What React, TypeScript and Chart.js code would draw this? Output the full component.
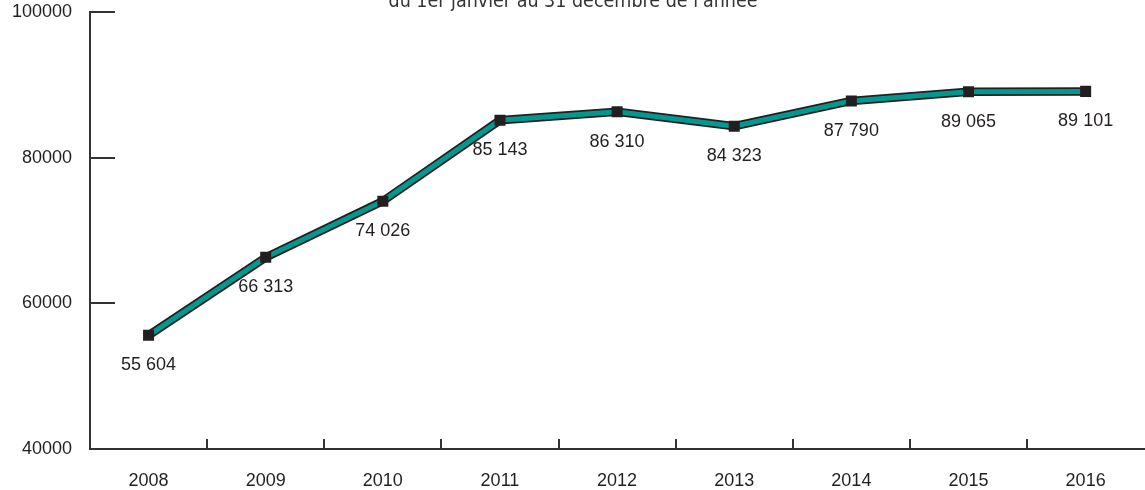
import React, { useEffect, useRef } from "react";
import { Chart, registerables } from "chart.js";

Chart.register(...registerables);

const years: string[] = ["2008", "2009", "2010", "2011", "2012", "2013", "2014", "2015", "2016"];
const values: number[] = [55604, 66313, 74026, 85143, 86310, 84323, 87790, 89065, 89101];
const yTicks: number[] = [40000, 60000, 80000, 100000];
const subtitle = "du 1er janvier au 31 décembre de l'année";

const TEAL = "#00998f";
const DARK = "#231f20";
const AXIS = "#333333";
const FONT = "'Liberation Sans', Arial, sans-serif";

const fmt = (v: number) => String(v).replace(/\B(?=(\d{3})+(?!\d))/g, " ");

const decorPlugin = {
  id: "decor",
  afterDraw(chart: any) {
    const { ctx, chartArea, scales } = chart;
    const x = scales.x;
    const y = scales.y;
    ctx.save();
    ctx.strokeStyle = AXIS;
    ctx.lineWidth = 2;
    for (const v of yTicks) {
      const py = Math.round(y.getPixelForValue(v));
      ctx.beginPath();
      ctx.moveTo(chartArea.left, py);
      ctx.lineTo(chartArea.left + 25, py);
      ctx.stroke();
    }
    for (let i = 0; i < years.length - 1; i++) {
      const px = Math.round((x.getPixelForValue(i) + x.getPixelForValue(i + 1)) / 2);
      ctx.beginPath();
      ctx.moveTo(px, chartArea.bottom);
      ctx.lineTo(px, chartArea.bottom - 10);
      ctx.stroke();
    }
    const meta = chart.getDatasetMeta(1);
    ctx.fillStyle = DARK;
    ctx.font = `18px ${FONT}`;
    ctx.textAlign = "center";
    ctx.textBaseline = "middle";
    meta.data.forEach((pt: any, i: number) => {
      ctx.fillText(fmt(values[i]), pt.x, pt.y + 30);
    });
    ctx.fillStyle = "#333333";
    ctx.font = `19.5px 'DejaVu Sans Condensed', 'DejaVu Sans', sans-serif`;
    ctx.textBaseline = "alphabetic";
    ctx.fillText(subtitle, 573, 7);
    ctx.restore();
  },
};

export default function App() {
  const ref = useRef<HTMLCanvasElement | null>(null);
  useEffect(() => {
    if (!ref.current) return;
    const chart = new Chart(ref.current, {
      type: "line",
      data: {
        labels: years,
        datasets: [
          {
            data: values,
            borderColor: DARK,
            borderWidth: 8.5,
            pointRadius: 0,
            fill: false,
            tension: 0,
            order: 2,
          },
          {
            data: values,
            borderColor: TEAL,
            borderWidth: 5,
            pointStyle: "rect",
            pointRadius: 7.8,
            pointBackgroundColor: DARK,
            pointBorderColor: DARK,
            pointBorderWidth: 0,
            fill: false,
            tension: 0,
            order: 1,
          },
        ],
      },
      options: {
        responsive: false,
        animation: false,
        layout: { padding: { top: 12, left: 0, right: 0, bottom: 0 } },
        plugins: {
          legend: { display: false },
          tooltip: { enabled: false },
          title: { display: false },
        },
        scales: {
          x: {
            offset: true,
            grid: { display: false, drawTicks: false },
            border: { display: true, color: AXIS, width: 2 },
            ticks: { color: DARK, font: { family: FONT, size: 18 }, padding: 21, maxRotation: 0 },
            afterFit: (s: any) => {
              s.height = 41;
              s.paddingLeft = 0;
              s.paddingRight = 0;
            },
          },
          y: {
            min: 40000,
            max: 100000,
            afterBuildTicks: (s: any) => {
              s.ticks = yTicks.map((v) => ({ value: v }));
            },
            grid: { display: false, drawTicks: false },
            border: { display: true, color: AXIS, width: 2 },
            ticks: { color: DARK, font: { family: FONT, size: 18 }, padding: 18, callback: (v: any) => String(v) },
            afterFit: (s: any) => {
              s.width = 90;
              s.paddingTop = 0;
              s.paddingBottom = 0;
            },
          },
        },
      },
      plugins: [decorPlugin],
    });
    return () => chart.destroy();
  }, []);
  return (
    <div style={{ position: "absolute", left: 0, top: 0, width: 1145, height: 490, overflow: "hidden", background: "#fff" }}>
      <canvas ref={ref} width={1152} height={490} style={{ display: "block" }} />
    </div>
  );
}
